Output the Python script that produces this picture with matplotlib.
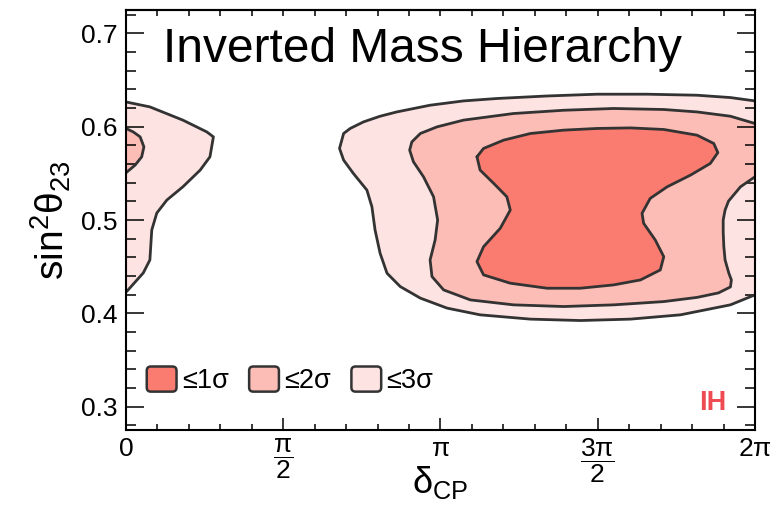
import numpy as np
import matplotlib
matplotlib.use('Agg')
import matplotlib.pyplot as plt
from matplotlib.patches import FancyBboxPatch, Patch
from matplotlib.legend_handler import HandlerPatch

plt.rcParams['font.family'] = ['Liberation Sans', 'DejaVu Sans']
plt.rcParams['mathtext.fontset'] = 'custom'
plt.rcParams['mathtext.rm'] = 'Liberation Sans'
plt.rcParams['mathtext.it'] = 'Liberation Sans'
plt.rcParams['mathtext.bf'] = 'Liberation Sans:bold'

NARROW = ['Liberation Sans Narrow', 'Liberation Sans', 'DejaVu Sans']

# allowed-region outlines: delta_CP in units of pi, sin^2(theta23)
# 3 sigma lobe near delta_CP = 0
left3_d = [0.000, 0.076, 0.181, 0.257, 0.278, 0.267, 0.236, 0.181, 0.130, 0.098, 0.082, 0.076, 0.055, 0.002]
left3_s = [0.6265, 0.6212, 0.6070, 0.5944, 0.5891, 0.5677, 0.5535, 0.5356, 0.5214, 0.5075, 0.4893, 0.4572, 0.4433, 0.4233]
# 2 sigma lobe near delta_CP = 0
left2_d = [0.000, 0.023, 0.045, 0.057, 0.050, 0.029, 0.000]
left2_s = [0.5981, 0.5944, 0.5891, 0.5784, 0.5677, 0.5588, 0.5506]

# 3 sigma main region (open at 2 pi)
main3_d = [2.000, 1.922, 1.816, 1.657, 1.498, 1.339, 1.180, 1.073, 0.967, 0.861, 0.808, 0.755, 0.713,
           0.692, 0.679, 0.692, 0.723, 0.766, 0.782, 0.792, 0.808, 0.830, 0.872, 0.936, 1.021, 1.126,
           1.286, 1.445, 1.604, 1.763, 1.922, 2.000]
main3_s = [0.6276, 0.6312, 0.6337, 0.6348, 0.6348, 0.6329, 0.6302, 0.6276, 0.6230, 0.6158, 0.6112, 0.6051, 0.5981,
           0.5927, 0.5767, 0.5642, 0.5499, 0.5321, 0.5142, 0.4893, 0.4644, 0.4430, 0.4287, 0.4163, 0.4056, 0.3984,
           0.3938, 0.3923, 0.3938, 0.3984, 0.4091, 0.4198]

# 2 sigma main region (open at 2 pi)
main2_d = [2.000, 1.922, 1.816, 1.710, 1.551, 1.392, 1.232, 1.073, 0.989, 0.936, 0.909, 0.902, 0.914,
           0.946, 0.978, 0.991, 0.983, 0.967, 0.973, 1.010, 1.095, 1.232, 1.392, 1.551, 1.710, 1.816,
           1.884, 1.922, 1.925, 1.917, 1.905, 1.901, 1.899, 1.899, 1.905, 1.916, 1.954, 2.000]
main2_s = [0.6034, 0.6112, 0.6158, 0.6184, 0.6195, 0.6176, 0.6141, 0.6070, 0.5998, 0.5927, 0.5837, 0.5749, 0.5624,
           0.5463, 0.5249, 0.5000, 0.4786, 0.4572, 0.4394, 0.4251, 0.4144, 0.4091, 0.4073, 0.4091, 0.4126, 0.4171,
           0.4219, 0.4283, 0.4358, 0.4430, 0.4572, 0.4714, 0.4872, 0.5000, 0.5107, 0.5203, 0.5356, 0.5463]

# 1 sigma region (closed)
main1_d = [1.116, 1.137, 1.201, 1.286, 1.392, 1.498, 1.604, 1.710, 1.816, 1.869, 1.882, 1.858, 1.795,
           1.721, 1.667, 1.641, 1.646, 1.683, 1.710, 1.699, 1.636, 1.551, 1.445, 1.339, 1.222, 1.137,
           1.116, 1.137, 1.190, 1.222, 1.211, 1.169, 1.126]
main1_s = [0.5677, 0.5767, 0.5856, 0.5927, 0.5963, 0.5981, 0.5987, 0.5970, 0.5909, 0.5820, 0.5722, 0.5606, 0.5481,
           0.5356, 0.5232, 0.5072, 0.4965, 0.4786, 0.4607, 0.4465, 0.4358, 0.4305, 0.4269, 0.4269, 0.4323, 0.4412,
           0.4554, 0.4714, 0.4911, 0.5107, 0.5249, 0.5393, 0.5535]

sigma_labels = ['≤1σ', '≤2σ', '≤3σ']
sigma_colors = ['#FA7B6F', '#FCBDB7', '#FDE3E1']
line_col = '#333333'

x_major = [0, 0.5, 1, 1.5, 2]
x_major_labels = [r'$0$', r'$\dfrac{\pi}{2}$', r'$\pi$', r'$\dfrac{3\pi}{2}$', r'$2\pi$']
y_major = [0.3, 0.4, 0.5, 0.6, 0.7]

fig = plt.figure(figsize=(7.71, 5.11), dpi=100)
ax = fig.add_axes([0.1634, 0.1585, 0.8158, 0.8219])


def region(d, s, color, closed=False):
    x = np.array(d) * np.pi
    y = np.array(s)
    ax.fill(x, y, facecolor=color, edgecolor='none', zorder=1)
    if closed:
        x = np.append(x, x[0])
        y = np.append(y, y[0])
    ax.plot(x, y, color=line_col, lw=2.0, solid_joinstyle='round', solid_capstyle='round', zorder=3)


region(left3_d, left3_s, sigma_colors[2])
region(left2_d, left2_s, sigma_colors[1])
region(main3_d, main3_s, sigma_colors[2])
region(main2_d, main2_s, sigma_colors[1])
region(main1_d, main1_s, sigma_colors[0], closed=True)

ax.set_xlim(0, 2 * np.pi)
ax.set_ylim(0.275, 0.725)

ax.set_xticks(np.array(x_major) * np.pi, x_major_labels)
ax.set_xticks(np.arange(0, 21) * np.pi / 10, minor=True)
ax.set_yticks(y_major, [f'{v:.1f}' for v in y_major])
ax.set_yticks(np.arange(0.28, 0.7201, 0.02), minor=True)

ax.tick_params(axis='x', which='major', direction='in', length=8.5, width=1.1, labelsize=19, pad=5, top=False)
ax.tick_params(axis='x', which='minor', direction='in', length=4.3, width=1.1, top=False)
ax.tick_params(axis='y', which='major', direction='in', length=13, width=1.1, labelsize=19, pad=6, right=True)
ax.tick_params(axis='y', which='minor', direction='in', length=7, width=1.1, right=True)
for lab in ax.get_yticklabels():
    lab.set_fontfamily(NARROW)

top = ax.secondary_xaxis('top')
top.set_xticks(np.arange(0, 21) * np.pi / 10)
top.tick_params(direction='in', length=4, width=1.1, labeltop=False)
top.spines['top'].set_linewidth(1.5)

for sp in ax.spines.values():
    sp.set_linewidth(1.5)
    sp.set_zorder(5)

ax.set_xlabel('δ$_{\\rm CP}$', fontsize=26)
ax.xaxis.set_label_coords(0.5, -0.08)
ax.set_ylabel('sin$^{2}$θ$_{23}$', fontsize=28)
ax.yaxis.set_label_coords(-0.085, 0.5)

ax.text(0.059, 0.876, 'Inverted Mass Hierarchy', transform=ax.transAxes,
        fontsize=34.5, ha='left', va='baseline', zorder=6)
ax.text(0.955, 0.064, 'IH', transform=ax.transAxes, fontsize=19.5, fontweight='bold',
        color='#EE4B52', ha='right', va='center', zorder=6)


def rounded_box(legend, orig_handle, xdescent, ydescent, width, height, fontsize):
    return FancyBboxPatch((-xdescent, -ydescent), width, height,
                          boxstyle='round,pad=0,rounding_size=3')


handles = [Patch(facecolor=c, edgecolor=line_col, linewidth=1.8) for c in sigma_colors]
ax.legend(handles, sigma_labels, loc='lower left', bbox_to_anchor=(0.033, 0.085), ncol=3,
          frameon=False, borderpad=0, borderaxespad=0, handlelength=1.1, handleheight=1.05,
          handletextpad=0.2, columnspacing=0.75, prop={'family': NARROW, 'size': 19.5},
          handler_map={Patch: HandlerPatch(patch_func=rounded_box)})

fig.savefig('out.png', dpi=100)
